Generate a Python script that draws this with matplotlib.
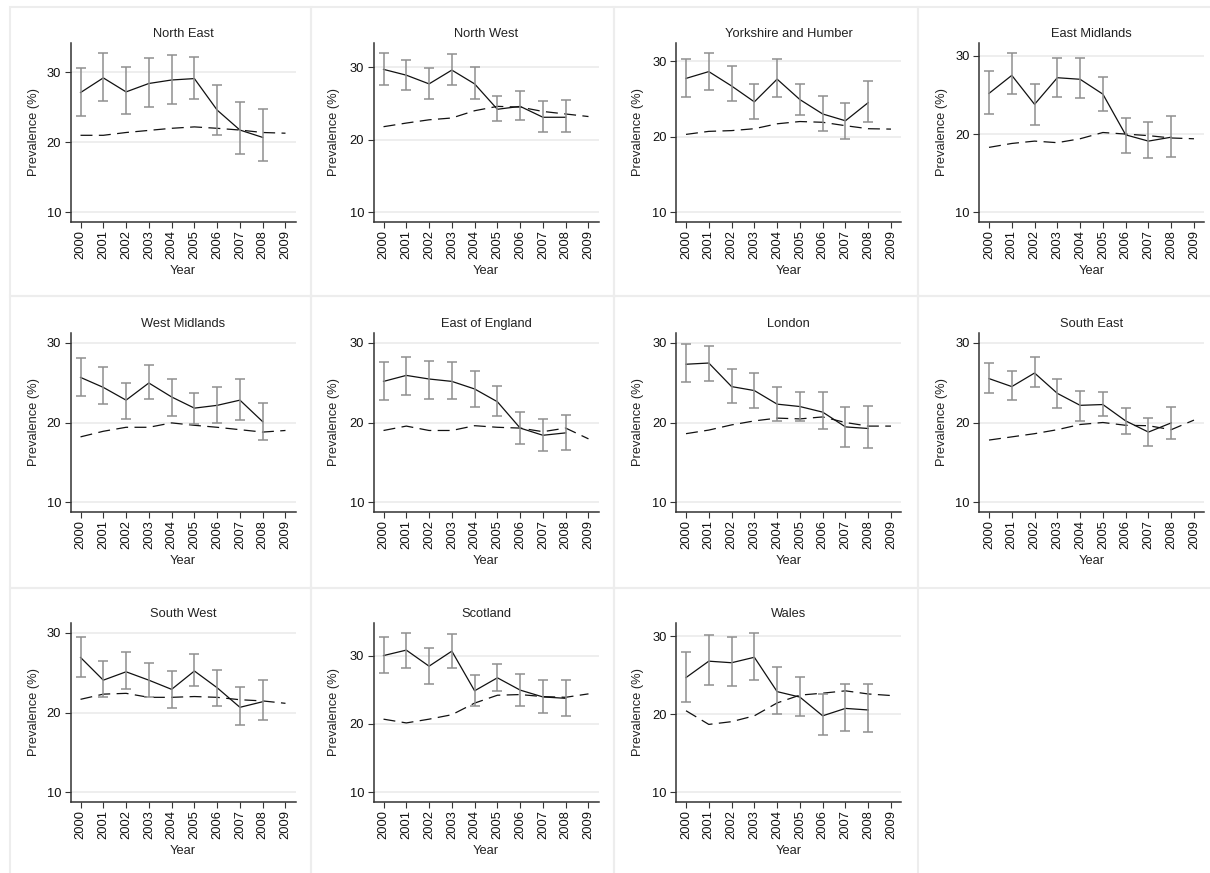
import matplotlib
matplotlib.use("Agg")
import matplotlib.pyplot as plt
from matplotlib.patches import Rectangle

plt.rcParams['font.family'] = ['Liberation Sans', 'DejaVu Sans']
plt.rcParams['lines.scale_dashes'] = False

# ---------------- data ----------------
years = [2000, 2001, 2002, 2003, 2004, 2005, 2006, 2007, 2008, 2009]
obs_years = years[:9]
y_ticks = [10, 20, 30]

region_names = ["North East", "North West", "Yorkshire and Humber", "East Midlands",
                "West Midlands", "East of England", "London", "South East",
                "South West", "Scotland", "Wales"]

prev_ne = [27.1, 29.2, 27.2, 28.4, 28.9, 29.1, 24.6, 21.75, 20.7]
lo_ne = [23.8, 25.9, 24.0, 25.0, 25.5, 26.2, 21.1, 18.3, 17.4]
hi_ne = [30.6, 32.8, 30.7, 32.1, 32.5, 32.2, 28.2, 25.7, 24.8]
ref_ne = [21.0, 21.0, 21.4, 21.7, 22.0, 22.2, 22.0, 21.75, 21.4, 21.3]

prev_nw = [29.7, 28.9, 27.7, 29.6, 27.7, 24.2, 24.6, 23.1, 23.1]
lo_nw = [27.5, 26.9, 25.6, 27.5, 25.6, 22.6, 22.7, 21.0, 21.0]
hi_nw = [32.0, 31.0, 29.9, 31.8, 30.0, 26.0, 26.7, 25.4, 25.5]
ref_nw = [21.8, 22.3, 22.75, 23.0, 24.0, 24.6, 24.5, 23.9, 23.55, 23.2]

prev_yh = [27.7, 28.6, 26.7, 24.6, 27.6, 24.9, 23.0, 22.1, 24.5]
lo_yh = [25.2, 26.2, 24.7, 22.3, 25.2, 22.9, 20.8, 19.7, 22.0]
hi_yh = [30.3, 31.1, 29.4, 26.9, 30.3, 27.0, 25.4, 24.5, 27.3]
ref_yh = [20.3, 20.7, 20.8, 21.05, 21.7, 22.0, 21.9, 21.45, 21.05, 21.0]

prev_em = [25.2, 27.5, 23.8, 27.2, 27.0, 25.1, 19.9, 19.1, 19.6]
lo_em = [22.6, 25.1, 21.2, 24.8, 24.6, 23.0, 17.6, 16.9, 17.1]
hi_em = [28.1, 30.4, 26.4, 29.7, 29.7, 27.3, 22.0, 21.6, 22.3]
ref_em = [18.3, 18.8, 19.1, 18.9, 19.4, 20.2, 20.0, 19.8, 19.5, 19.4]

prev_wm = [25.65, 24.4, 22.8, 24.95, 23.2, 21.8, 22.15, 22.8, 20.1]
lo_wm = [23.3, 22.3, 20.4, 22.9, 20.85, 19.8, 19.9, 20.3, 17.8]
hi_wm = [28.1, 26.9, 25.0, 27.2, 25.5, 23.7, 24.4, 25.5, 22.5]
ref_wm = [18.2, 18.9, 19.4, 19.4, 19.95, 19.65, 19.4, 19.1, 18.8, 19.0]

prev_ee = [25.15, 25.9, 25.45, 25.15, 24.2, 22.6, 19.3, 18.4, 18.7]
lo_ee = [22.8, 23.5, 23.0, 22.9, 22.0, 20.8, 17.3, 16.4, 16.5]
hi_ee = [27.6, 28.2, 27.7, 27.6, 26.5, 24.6, 21.3, 20.4, 21.0]
ref_ee = [19.0, 19.55, 19.0, 19.0, 19.6, 19.4, 19.3, 18.85, 19.3, 17.95]

prev_lo = [27.3, 27.45, 24.5, 24.0, 22.3, 22.0, 21.3, 19.45, 19.25]
lo_lo = [25.1, 25.2, 22.4, 21.8, 20.15, 20.15, 19.2, 16.95, 16.8]
hi_lo = [29.8, 29.6, 26.7, 26.2, 24.5, 23.8, 23.8, 22.0, 22.1]
ref_lo = [18.6, 19.05, 19.7, 20.2, 20.55, 20.45, 20.7, 20.0, 19.55, 19.55]

prev_se = [25.5, 24.5, 26.2, 23.65, 22.15, 22.25, 20.2, 18.8, 19.95]
lo_se = [23.7, 22.8, 24.4, 21.8, 20.25, 20.8, 18.5, 17.05, 17.95]
hi_se = [27.5, 26.4, 28.2, 25.4, 24.0, 23.8, 21.85, 20.55, 22.0]
ref_se = [17.8, 18.2, 18.6, 19.1, 19.75, 20.0, 19.65, 19.6, 19.1, 20.3]

prev_sw = [26.9, 24.05, 25.1, 24.05, 22.9, 25.2, 23.1, 20.65, 21.35]
lo_sw = [24.45, 21.9, 22.9, 21.9, 20.6, 23.3, 20.8, 18.45, 19.0]
hi_sw = [29.5, 26.4, 27.6, 26.15, 25.2, 27.3, 25.35, 23.15, 24.05]
ref_sw = [21.65, 22.3, 22.4, 21.9, 21.9, 22.0, 21.9, 21.6, 21.45, 21.15]

prev_sc = [30.0, 30.8, 28.45, 30.65, 24.85, 26.75, 24.95, 23.95, 23.75]
lo_sc = [27.5, 28.2, 25.9, 28.2, 22.6, 24.8, 22.6, 21.6, 21.1]
hi_sc = [32.7, 33.35, 31.05, 33.1, 27.15, 28.8, 27.3, 26.45, 26.45]
ref_sc = [20.7, 20.15, 20.7, 21.35, 23.05, 24.2, 24.3, 24.0, 23.9, 24.4]

prev_wa = [24.7, 26.8, 26.6, 27.3, 22.9, 22.2, 19.8, 20.75, 20.55]
lo_wa = [21.6, 23.75, 23.6, 24.4, 20.0, 19.8, 17.3, 17.9, 17.7]
hi_wa = [28.0, 30.1, 29.9, 30.45, 26.1, 24.8, 22.6, 23.85, 23.85]
ref_wa = [20.45, 18.7, 19.05, 19.8, 21.45, 22.45, 22.7, 23.0, 22.6, 22.4]

panels = [
    (prev_ne, lo_ne, hi_ne, ref_ne), (prev_nw, lo_nw, hi_nw, ref_nw),
    (prev_yh, lo_yh, hi_yh, ref_yh), (prev_em, lo_em, hi_em, ref_em),
    (prev_wm, lo_wm, hi_wm, ref_wm), (prev_ee, lo_ee, hi_ee, ref_ee),
    (prev_lo, lo_lo, hi_lo, ref_lo), (prev_se, lo_se, hi_se, ref_se),
    (prev_sw, lo_sw, hi_sw, ref_sw), (prev_sc, lo_sc, hi_sc, ref_sc),
    (prev_wa, lo_wa, hi_wa, ref_wa),
]

# ---------------- layout ----------------
W, H = 1210, 873
fig = plt.figure(figsize=(W / 100, H / 100), dpi=100)
fig.patch.set_facecolor('white')

cell_x = [10, 311, 614, 918, 1212]
cell_y = [7, 296, 588, 876]
ax_left = [70.5, 373.5, 676, 979]
ax_top = [42.7, 332.7, 622.7]
ax_w, ax_h = 225.0, 179.6

txt = '#222222'
for i, name in enumerate(region_names):
    r, c = divmod(i, 4)
    # panel border
    x0, x1 = cell_x[c], cell_x[c + 1]
    y0, y1 = cell_y[r], cell_y[r + 1]
    fig.add_artist(Rectangle((x0 / W, 1 - y1 / H), (x1 - x0) / W, (y1 - y0) / H,
                             transform=fig.transFigure, fill=False,
                             ec='#ededed', lw=1.5, zorder=0))

    prev, lo, hi, ref = panels[i]
    ax = fig.add_axes([ax_left[c] / W, 1 - (ax_top[r] + ax_h) / H, ax_w / W, ax_h / H])

    ax.plot(years, ref, color='#111111', lw=0.9, dashes=(8.6, 4.6), zorder=3)
    ax.plot(obs_years, prev, color='#111111', lw=0.9, zorder=3)
    yerr = [[p - l for p, l in zip(prev, lo)], [h - p for p, h in zip(prev, hi)]]
    ax.errorbar(obs_years, prev, yerr=yerr, fmt='none', ecolor='#8f8f8f',
                elinewidth=1.1, capsize=3.3, capthick=1.1, zorder=4)

    lo_r = min(10, min(lo))
    hi_r = max(30, max(hi))
    rng = hi_r - lo_r
    ax.set_ylim(lo_r - 0.0625 * rng, hi_r + 0.0625 * rng)
    ax.set_xlim(years[0] - 0.44, years[-1] + 0.44)

    ax.set_yticks(y_ticks)
    ax.set_xticks(years)
    ax.set_xticklabels([str(y) for y in years], rotation=90)
    ax.grid(axis='y', color='#e9e9e9', lw=1.1)
    ax.set_axisbelow(True)

    for s in ['top', 'right']:
        ax.spines[s].set_visible(False)
    for s in ['left', 'bottom']:
        ax.spines[s].set_color('#333333')
        ax.spines[s].set_linewidth(1.1)

    ax.tick_params(axis='both', direction='out', length=4.3, width=0.8,
                   color='#333333', labelsize=9.3, labelcolor='#111111')
    ax.tick_params(axis='y', pad=2.4)
    ax.tick_params(axis='x', pad=1.5)

    ax.set_title(name, fontsize=9.3, color=txt, pad=4.3)
    ax.set_ylabel('Prevalence (%)', fontsize=9.3, color=txt, va='center')
    ax.yaxis.set_label_coords(-(ax_left[c] - cell_x[c] - 23.5) / ax_w, 0.5)
    ax.set_xlabel('Year', fontsize=9.3, color=txt, va='center')
    ax.xaxis.set_label_coords(0.5, -48.4 / ax_h)

fig.savefig('out.png', dpi=100, facecolor='white')
